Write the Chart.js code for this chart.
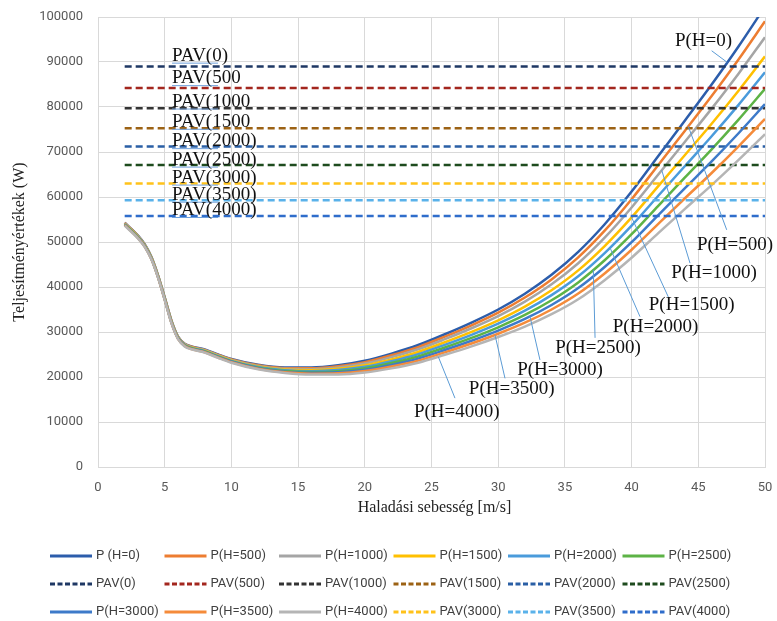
<!DOCTYPE html>
<html>
<head>
<meta charset="utf-8">
<script src="https://cdn.jsdelivr.net/npm/chart.js@4.4.1/dist/chart.umd.min.js"></script>
<style>
  html, body { margin: 0; padding: 0; background: #fff; }
</style>
</head>
<body>
<canvas id="chart" width="777" height="621"></canvas>
<script>
// Speeds on the x-axis (m/s)
const speeds = [2, 3, 3.5, 4, 4.5, 5, 5.5, 6, 6.5, 7, 8, 9, 10, 12, 14, 16, 18, 20, 22, 24, 26, 28, 30, 32, 34, 36, 38, 40, 42, 44, 46, 48, 50];

// Required power curves (W) for each altitude
const pH0    = [54300, 51400, 49500, 46700, 42600, 37700, 32600, 29000, 27400, 26800, 26100, 25000, 24000, 22700, 22100, 22100, 22600, 23600, 25200, 27100, 29500, 32100, 35000, 38500, 42700, 47800, 54000, 61200, 69100, 77000, 85000, 93400, 102300];
const pH500  = [54230, 51330, 49430, 46640, 42540, 37640, 32530, 28930, 27330, 26730, 26020, 24910, 23910, 22590, 21960, 21920, 22370, 23300, 24820, 26650, 28970, 31490, 34300, 37660, 41690, 46590, 52570, 59510, 67130, 74740, 82430, 90500, 99040];
const pH1000 = [54140, 51250, 49360, 46570, 42480, 37560, 32460, 28860, 27260, 26650, 25940, 24820, 23800, 22470, 21810, 21730, 22110, 22980, 24410, 26160, 28400, 30830, 33530, 36740, 40600, 45280, 51020, 57680, 64990, 72290, 79640, 87350, 95500];
const pH1500 = [54050, 51160, 49270, 46480, 42400, 37480, 32370, 28770, 27170, 26550, 25840, 24710, 23680, 22320, 21640, 21500, 21810, 22590, 23920, 25570, 27720, 30030, 32610, 35650, 39290, 43700, 49160, 55470, 62420, 69340, 76280, 83570, 91250];
const pH2000 = [53960, 51080, 49190, 46410, 42340, 37410, 32300, 28700, 27090, 26470, 25750, 24610, 23580, 22200, 21490, 21300, 21550, 22260, 23510, 25080, 27150, 29370, 31850, 34730, 38190, 42380, 47600, 53640, 60270, 66890, 73490, 80410, 87710];
const pH2500 = [53880, 51000, 49120, 46340, 42270, 37340, 32220, 28630, 27010, 26390, 25660, 24520, 23470, 22070, 21330, 21100, 21290, 21930, 23090, 24570, 26550, 28680, 31050, 33780, 37050, 41020, 45990, 51730, 58050, 64340, 70580, 77130, 84020];
const pH3000 = [53800, 50930, 49050, 46270, 42210, 37270, 32150, 28560, 26940, 26310, 25580, 24430, 23380, 21950, 21190, 20920, 21040, 21610, 22690, 24090, 26000, 28050, 30310, 32900, 36000, 39760, 44500, 49960, 55990, 61980, 67900, 74110, 80620];
const pH3500 = [53730, 50860, 48980, 46210, 42150, 37200, 32080, 28490, 26870, 26230, 25500, 24340, 23280, 21840, 21050, 20740, 20810, 21320, 22320, 23640, 25480, 27440, 29610, 32060, 35000, 38550, 43070, 48280, 54020, 59720, 65330, 71210, 77360];
const pH4000 = [53650, 50780, 48910, 46140, 42090, 37130, 32010, 28420, 26800, 26160, 25420, 24250, 23180, 21720, 20910, 20550, 20570, 21000, 21920, 23170, 24930, 26800, 28880, 31190, 33950, 37280, 41580, 46510, 51960, 57370, 62650, 68180, 73960];

// Available power levels (W), drawn from 2 to 50 m/s
const pavSpan = [2, 50];
const pav0 = 89000, pav500 = 84200, pav1000 = 79700, pav1500 = 75300, pav2000 = 71200;
const pav2500 = 67100, pav3000 = 63000, pav3500 = 59300, pav4000 = 55800;

// Axis ticks
const xTicks = [0, 5, 10, 15, 20, 25, 30, 35, 40, 45, 50];
const yTicks = [0, 10000, 20000, 30000, 40000, 50000, 60000, 70000, 80000, 90000, 100000];

function curve(label, values, color) {
    return {
        label: label,
        data: speeds.map((s, i) => ({ x: s, y: values[i] })),
        borderColor: color,
        borderWidth: 2.5,
        pointRadius: 0,
        cubicInterpolationMode: 'monotone',
        fill: false,
    };
}
function pav(label, value, color) {
    return {
        label: label,
        data: pavSpan.map(s => ({ x: s, y: value })),
        borderColor: color,
        borderWidth: 2.5,
        borderDash: [7, 4],
        pointRadius: 0,
        fill: false,
        dashed: true,
    };
}

// same order as the Excel legend
const datasets = [
    curve('P (H=0)', pH0, '#2C5DAB'),
    curve('P(H=500)', pH500, '#ED7D31'),
    curve('P(H=1000)', pH1000, '#A5A5A5'),
    curve('P(H=1500)', pH1500, '#FFC000'),
    curve('P(H=2000)', pH2000, '#4A9BDB'),
    curve('P(H=2500)', pH2500, '#5DB346'),
    pav('PAV(0)', pav0, '#1F3864'),
    pav('PAV(500)', pav500, '#A3261E'),
    pav('PAV(1000)', pav1000, '#333333'),
    pav('PAV(1500)', pav1500, '#9C6214'),
    pav('PAV(2000)', pav2000, '#2A5FA5'),
    pav('PAV(2500)', pav2500, '#1E4B1E'),
    curve('P(H=3000)', pH3000, '#3D7AC9'),
    curve('P(H=3500)', pH3500, '#F58B3A'),
    curve('P(H=4000)', pH4000, '#B5B5B5'),
    pav('PAV(3000)', pav3000, '#FFC21A'),
    pav('PAV(3500)', pav3500, '#5AB2EA'),
    pav('PAV(4000)', pav4000, '#2F6DCB'),
];
datasets.forEach((d, i) => { d.order = -i; }); // later series on top

// Text labels in the plot
const pavLabelText = ['PAV(0)', 'PAV(500', 'PAV(1000', 'PAV(1500', 'PAV(2000)', 'PAV(2500)', 'PAV(3000)', 'PAV(3500)', 'PAV(4000)'];
const pavLabelBase = [90300, 85300, 80100, 75600, 71300, 67200, 63200, 59400, 56000];
const curveLabels = [
    { text: 'P(H=0)',    s: pH0,    tx: 45.39, ty: 94700, ax: 46.0,  ay: 92500, cx: 47.17 },
    { text: 'P(H=500)',  s: pH500,  tx: 47.75, ty: 49300, ax: 47.13, ay: 52700, cx: 44.25 },
    { text: 'P(H=1000)', s: pH1000, tx: 46.18, ty: 43100, ax: 44.38, ay: 45300, cx: 42.26 },
    { text: 'P(H=1500)', s: pH1500, tx: 44.5,  ty: 36000, ax: 42.75, ay: 37800, cx: 40.0 },
    { text: 'P(H=2000)', s: pH2000, tx: 41.8,  ty: 31200, ax: 40.63, ay: 33400, cx: 38.38 },
    { text: 'P(H=2500)', s: pH2500, tx: 37.48, ty: 26400, ax: 37.26, ay: 28700, cx: 37.13 },
    { text: 'P(H=3000)', s: pH3000, tx: 34.63, ty: 21600, ax: 33.13, ay: 23800, cx: 32.38 },
    { text: 'P(H=3500)', s: pH3500, tx: 31.01, ty: 17300, ax: 30.51, ay: 19700, cx: 29.76 },
    { text: 'P(H=4000)', s: pH4000, tx: 26.89, ty: 12300, ax: 26.76, ay: 15300, cx: 25.51 },
];

function valueAt(values, s) {
    for (let i = 1; i < speeds.length; i++) {
        if (s <= speeds[i]) {
            const t = (s - speeds[i - 1]) / (speeds[i] - speeds[i - 1]);
            return values[i - 1] + t * (values[i] - values[i - 1]);
        }
    }
    return values[values.length - 1];
}

const serif = '"Liberation Serif", "Times New Roman", serif';

const extras = {
    id: 'extras',
    afterDraw(chart) {
        const { ctx, scales: { x, y } } = chart;
        ctx.save();

        // PAV labels with their underline
        ctx.font = '19px ' + serif;
        ctx.textAlign = 'left';
        ctx.textBaseline = 'alphabetic';
        pavLabelText.forEach((t, i) => {
            const px = x.getPixelForValue(5.55);
            const py = y.getPixelForValue(pavLabelBase[i]);
            ctx.strokeStyle = '#6FA0DC';
            ctx.lineWidth = 1;
            ctx.beginPath();
            ctx.moveTo(px, py + 2.5);
            ctx.lineTo(x.getPixelForValue(9.0), py + 2.5);
            ctx.stroke();
            ctx.fillStyle = '#111';
            ctx.fillText(t, px, py);
        });

        // curve labels with leader lines
        ctx.textAlign = 'center';
        ctx.textBaseline = 'middle';
        curveLabels.forEach(l => {
            ctx.strokeStyle = '#5B9BD5';
            ctx.lineWidth = 1;
            ctx.beginPath();
            ctx.moveTo(x.getPixelForValue(l.ax), y.getPixelForValue(l.ay));
            ctx.lineTo(x.getPixelForValue(l.cx), y.getPixelForValue(valueAt(l.s, l.cx)));
            ctx.stroke();
            ctx.fillStyle = '#111';
            ctx.fillText(l.text, x.getPixelForValue(l.tx), y.getPixelForValue(l.ty));
        });

        // axis titles
        ctx.fillStyle = '#222';
        ctx.font = '16px ' + serif;
        ctx.fillText('Haladási sebesség [m/s]', (chart.chartArea.left + chart.chartArea.right) / 2 + 3, 508);
        ctx.save();
        ctx.translate(20, (chart.chartArea.top + chart.chartArea.bottom) / 2);
        ctx.rotate(-Math.PI / 2);
        ctx.fillText('Teljesítményértékek (W)', 0, 0);
        ctx.restore();

        // legend, 6 columns x 3 rows
        ctx.font = '13px Roboto, "Open Sans", sans-serif';
        ctx.textAlign = 'left';
        chart.data.datasets.forEach((d, i) => {
            const col = i % 6, row = Math.floor(i / 6);
            const lx = 50 + col * 114.5;
            const ly = 556 + row * 28;
            ctx.strokeStyle = d.borderColor;
            ctx.lineWidth = 3;
            ctx.setLineDash(d.dashed ? [5, 2.5] : []);
            ctx.beginPath();
            ctx.moveTo(lx, ly);
            ctx.lineTo(lx + 42, ly);
            ctx.stroke();
            ctx.setLineDash([]);
            ctx.fillStyle = '#404040';
            ctx.fillText(d.label, lx + 46, ly);
        });
        ctx.restore();
    }
};

const tickFont = { family: 'Roboto', size: 13 };

const ctx = document.getElementById('chart').getContext('2d');
const chart = new Chart(ctx, {
    type: 'line',
    data: { datasets: datasets },
    options: {
        responsive: false,
        animation: false,
        devicePixelRatio: 1,
        layout: { padding: { left: 0, right: 12, top: 17, bottom: 0 } },
        plugins: {
            legend: { display: false },
            tooltip: { enabled: false },
        },
        scales: {
            x: {
                type: 'linear',
                min: 0,
                max: 50,
                afterBuildTicks: s => { s.ticks = xTicks.map(v => ({ value: v })); },
                afterFit: s => { s.height = 154; s.paddingLeft = 0; s.paddingRight = 0; },
                ticks: { color: '#595959', font: tickFont, padding: 13, callback: v => String(v) },
                grid: { color: '#D9D9D9', drawTicks: false },
                border: { color: '#D9D9D9' },
            },
            y: {
                min: 0,
                max: 100000,
                afterBuildTicks: s => { s.ticks = yTicks.map(v => ({ value: v })); },
                afterFit: s => { s.width = 98; s.paddingTop = 0; s.paddingBottom = 0; },
                ticks: { color: '#595959', font: tickFont, padding: 15, callback: v => String(v) },
                grid: { color: '#D9D9D9', drawTicks: false },
                border: { color: '#D9D9D9' },
            },
        },
    },
    plugins: [extras],
});
</script>
</body>
</html>
